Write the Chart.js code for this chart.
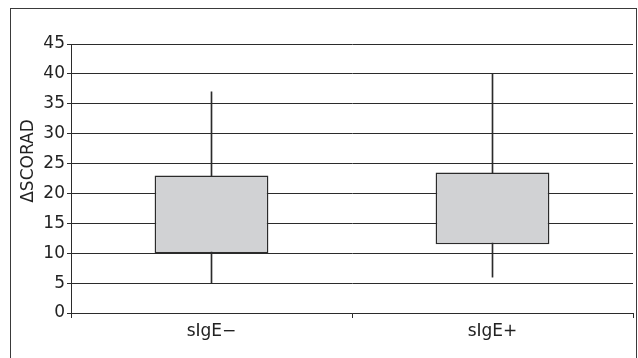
<!DOCTYPE html>
<html>
<head>
<meta charset="utf-8">
<script src="https://cdn.jsdelivr.net/npm/chart.js@4.4.0/dist/chart.umd.min.js"></script>
<style>
  html, body { margin: 0; padding: 0; background: #fff; }
  #wrap { position: relative; width: 638px; height: 358px; overflow: hidden; }
  #frame { position: absolute; left: 10px; top: 8px; width: 627px; height: 370px; border: 1px solid #3a3a3a; box-sizing: border-box; }
  canvas { position: absolute; left: 0; top: 0; }
</style>
</head>
<body>
<div id="wrap">
  <div id="frame"></div>
  <canvas id="boxChart" width="638" height="358"></canvas>
</div>
<script>
const categories = ['sIgE\u2212', 'sIgE+'];
const whiskerLow = [5, 6];
const whiskerHigh = [37, 40];
const boxLow = [10, 11.5];
const boxHigh = [23, 23.5];
const yTicks = [0, 5, 10, 15, 20, 25, 30, 35, 40, 45];
const yTitle = '\u0394SCORAD';

const lineColor = '#2b2b2b';
const font = 'DejaVu Sans';

// y axis title drawn by hand, it sits a bit above the plot centre in the original
const titlePlugin = {
    id: 'sideTitle',
    afterDraw(chart) {
        const ctx = chart.ctx;
        ctx.save();
        ctx.translate(29, 161);
        ctx.rotate(-Math.PI / 2);
        ctx.font = '17px "' + font + '"';
        ctx.fillStyle = '#222';
        ctx.textAlign = 'center';
        ctx.textBaseline = 'middle';
        ctx.fillText(yTitle, 0, 0);
        ctx.restore();
    }
};

const ctx = document.getElementById('boxChart').getContext('2d');
const boxChart = new Chart(ctx, {
    type: 'bar',
    data: {
        labels: categories,
        datasets: [{
            label: 'box',
            data: boxLow.map((v, i) => [v, boxHigh[i]]),
            backgroundColor: '#d1d2d4',
            borderColor: lineColor,
            borderWidth: 1.5,
            borderSkipped: false,
            barPercentage: 0.405,
            categoryPercentage: 1,
            grouped: false,
            order: 1
        },
        {
            label: 'whisker',
            data: whiskerLow.map((v, i) => [v, whiskerHigh[i]]),
            backgroundColor: lineColor,
            barThickness: 1,
            grouped: false,
            order: 2
        }]
    },
    options: {
        responsive: false,
        animation: false,
        layout: {
            padding: { top: 44, right: 5, left: 0, bottom: 0 }
        },
        plugins: {
            legend: { display: false },
            tooltip: { enabled: false }
        },
        scales: {
            x: {
                offset: true,
                afterFit(scale) { scale.height = 45; },
                grid: {
                    offset: true,
                    drawOnChartArea: false,
                    color: lineColor,
                    tickLength: 5
                },
                border: { color: lineColor, width: 1 },
                ticks: {
                    color: '#222',
                    padding: 3,
                    font: { family: font, size: 17 }
                }
            },
            y: {
                min: 0,
                max: 45,
                afterFit(scale) { scale.width = 71; },
                afterBuildTicks(scale) {
                    scale.ticks = yTicks.map(v => ({ value: v }));
                },
                grid: {
                    color: lineColor,
                    lineWidth: 1,
                    tickLength: 4
                },
                border: { color: lineColor, width: 1 },
                ticks: {
                    color: '#222',
                    padding: 2,
                    font: { family: font, size: 17 }
                }
            }
        }
    },
    plugins: [titlePlugin]
});
</script>
</body>
</html>
